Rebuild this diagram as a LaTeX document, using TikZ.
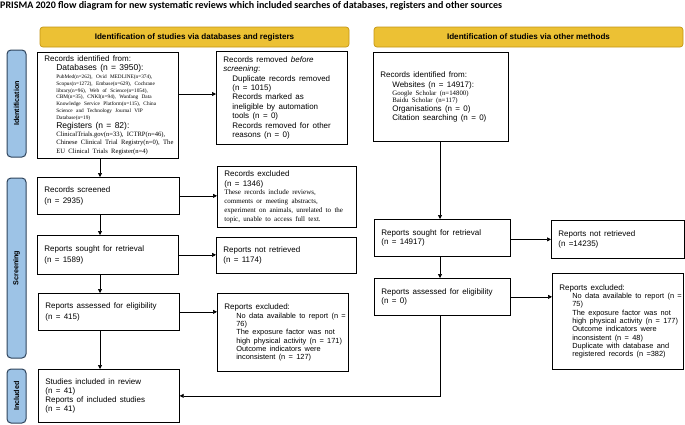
\documentclass[tikz,border=0pt]{standalone}
\usepackage{fontspec}
\setmainfont{Liberation Sans}
\newfontfamily\tnr{Liberation Serif}
\newfontfamily\ttl{Carlito}
\usetikzlibrary{arrows.meta}
\definecolor{bannerfill}{RGB}{236,193,52}
\definecolor{bannerdraw}{RGB}{196,150,20}
\definecolor{sidefill}{RGB}{157,195,230}
\definecolor{sidedraw}{RGB}{47,68,92}
\newcommand\Lb[4]{{\leftskip=#1pt\fontsize{#2}{#3}\selectfont\mbox{#4}\par}}
\newcommand\boxset{\lineskiplimit=-20pt\parindent=0pt\relax}
\tikzset{
  box/.style={draw=black, line width=0.7pt, fill=white, anchor=north west,
    inner xsep=7pt, inner ysep=0pt, align=left, font=\boxset},
  side/.style={draw=sidedraw, line width=1pt, fill=sidefill, rounded corners=4pt,
    rotate=90, inner sep=0pt, minimum height=19pt,
    font=\bfseries\fontsize{7.2}{8}\selectfont},
  banner/.style={draw=bannerdraw, line width=0.7pt, fill=bannerfill, rounded corners=3pt,
    inner sep=0pt, minimum width=309pt, minimum height=20pt,
    font=\bfseries\fontsize{8.1}{9}\selectfont},
  arr/.style={-{Triangle[length=4pt,width=4pt]}, line width=0.7pt}
}
\begin{document}
\begin{tikzpicture}[x=1pt,y=-1pt]
\fill[white] (0,0) rectangle (685,424);
\useasboundingbox (0,0) rectangle (685,424);

\node[anchor=west, inner sep=0pt, font=\ttl\bfseries\fontsize{10}{11}\selectfont] (title) at (0,5.8)
  {PRISMA 2020 flow diagram for new systematic reviews which included searches of databases, registers and other sources};

\node[banner] (banA) at (194.5,37) {Identification of studies via databases and registers};
\node[banner] (banB) at (528.5,37) {Identification of studies via other methods};

\node[side, minimum width=107pt] (sideA) at (16.5,103.5) {Identification};
\node[side, minimum width=180pt] (sideB) at (16.5,268) {Screening};
\node[side, minimum width=54pt] (sideC) at (16.5,396) {Included};

% left column
\node[box, text width=127pt, minimum height=106pt] (id1) at (37,52) {%
\Lb{0}{8}{9}{Records identified from:}
\Lb{12}{8.5}{9.5}{Databases (n = 3950):}
\Lb{12}{5.3}{8}{\tnr PubMed(n=262), Ovid MEDLINE(n=374),}
\Lb{12}{5.3}{6.7}{\tnr Scopus(n=1272), Embase(n=629), Cochrane}
\Lb{12}{5.3}{6.7}{\tnr library(n=96), Web of Science(n=1054),}
\Lb{12}{5.3}{6.7}{\tnr CBM(n=35), CNKI(n=94), Wanfang Data}
\Lb{12}{5.3}{6.7}{\tnr Knowledge Service Platform(n=115), China}
\Lb{12}{5.3}{6.7}{\tnr Science and Technology Journal VIP}
\Lb{12}{5.3}{6.7}{\tnr Database(n=19)}
\Lb{12}{8.5}{9}{Registers (n = 82):}
\Lb{12}{6.6}{8}{\tnr ClinicalTrials.gov(n=33), ICTRP(n=46),}
\Lb{12}{6.6}{8.8}{\tnr Chinese Clinical Trial Registry(n=0), The}
\Lb{12}{6.6}{8.8}{\tnr EU Clinical Trials Register(n=4)}};

\node[box, text width=117pt, minimum height=93pt] (removed) at (216,51) {%
\Lb{0}{8}{9.4}{Records removed \textit{before}}
\Lb{0}{8}{9.4}{\textit{screening}:}
\Lb{9}{8}{9.4}{Duplicate records removed}
\Lb{9}{8}{9.4}{(n = 1015)}
\Lb{9}{8}{9.4}{Records marked as}
\Lb{9}{8}{9.4}{ineligible by automation}
\Lb{9}{8}{9.4}{tools (n = 0)}
\Lb{9}{8}{9.4}{Records removed for other}
\Lb{9}{8}{9.4}{reasons (n = 0)}};

\node[box, text width=128pt, minimum height=37pt] (screened) at (37,177) {%
\Lb{0}{8}{11}{Records screened}
\Lb{0}{8}{11}{(n = 2935)}};

\node[box, text width=125pt, minimum height=61pt] (excl) at (217,166) {%
\Lb{0}{8}{10}{Records excluded}
\Lb{0}{8}{10}{(n = 1346)}
\Lb{0}{7}{8}{\tnr These records include reviews,}
\Lb{0}{7}{9}{\tnr comments or meeting abstracts,}
\Lb{0}{7}{9}{\tnr experiment on animals, unrelated to the}
\Lb{0}{7}{9}{\tnr topic, unable to access full text.}};

\node[box, text width=127pt, minimum height=39pt] (sought) at (37,235) {%
\Lb{0}{8}{10.5}{Reports sought for retrieval}
\Lb{0}{8}{10.5}{(n = 1589)}};

\node[box, text width=126pt, minimum height=36pt] (notret) at (216,237) {%
\Lb{0}{8}{10.5}{Reports not retrieved}
\Lb{0}{8}{10.5}{(n = 1174)}};

\node[box, text width=127pt, minimum height=37pt] (assessed) at (38,293) {%
\Lb{0}{8}{10.5}{Reports assessed for eligibility}
\Lb{0}{8}{10.5}{(n = 415)}};

\node[box, text width=117pt, minimum height=78pt] (repexcl) at (217,293) {%
\Lb{0}{8}{9}{Reports excluded:}
\Lb{12}{7.4}{9}{No data available to report (n =}
\Lb{12}{7.4}{8.3}{76)}
\Lb{12}{7.4}{8.3}{The exposure factor was not}
\Lb{12}{7.4}{8.3}{high physical activity (n = 171)}
\Lb{12}{7.4}{8.3}{Outcome indicators were}
\Lb{12}{7.4}{8.3}{inconsistent (n = 127)}};

\node[box, text width=127pt, minimum height=53pt] (included) at (38,369) {%
\Lb{0}{8}{9}{Studies included in review}
\Lb{0}{8}{9}{(n = 41)}
\Lb{0}{8}{9.5}{Reports of included studies}
\Lb{0}{8}{9}{(n = 41)}};

% right column
\node[box, text width=121pt, minimum height=89pt] (id2) at (373,52) {%
\Lb{0}{8}{9}{Records identified from:}
\Lb{12}{8}{9.5}{Websites (n = 14917):}
\Lb{12}{6.8}{8}{\tnr Google Scholar (n=14800)}
\Lb{12}{6.8}{7.3}{\tnr Baidu Scholar (n=117)}
\Lb{12}{8}{8.8}{Organisations (n = 0)}
\Lb{12}{8}{9}{Citation searching (n = 0)}};

\node[box, text width=122pt, minimum height=37pt] (sought2) at (374,219) {%
\Lb{0}{8}{9.5}{Reports sought for retrieval}
\Lb{0}{8}{9.5}{(n = 14917)}};

\node[box, text width=119pt, minimum height=38pt] (notret2) at (551,220) {%
\Lb{0}{8}{10}{Reports not retrieved}
\Lb{0}{8}{10}{(n =14235)}};

\node[box, text width=122pt, minimum height=37pt] (assessed2) at (374,278) {%
\Lb{0}{8}{9.5}{Reports assessed for eligibility}
\Lb{0}{8}{9.5}{(n = 0)}};

\node[box, text width=117pt, minimum height=96pt] (repexcl2) at (552,273) {%
\Lb{0}{8}{9}{Reports excluded:}
\Lb{13}{7.4}{8.5}{No data available to report (n =}
\Lb{13}{7.4}{8.3}{75)}
\Lb{13}{7.4}{8.3}{The exposure factor was not}
\Lb{13}{7.4}{8.3}{high physical activity (n = 177)}
\Lb{13}{7.4}{8.3}{Outcome indicators were}
\Lb{13}{7.4}{8.3}{inconsistent (n = 48)}
\Lb{13}{7.4}{8.3}{Duplicate with database and}
\Lb{13}{7.4}{8.3}{registered records (n =382)}};

% connectors
\coordinate (cL) at (100,0);
\coordinate (cR) at (440,0);
\coordinate (rA) at (0,94);
\draw[arr] (id1.east |- rA) -- (removed.west |- rA);
\draw[arr] (id1.south -| cL) -- (screened.north -| cL);
\draw[arr] (screened.east) -- (excl.west |- screened.east);
\draw[arr] (screened.south -| cL) -- (sought.north -| cL);
\draw[arr] (sought.east) -- (notret.west |- sought.east);
\draw[arr] (sought.south -| cL) -- (assessed.north -| cL);
\draw[arr] (assessed.east) -- (repexcl.west |- assessed.east);
\draw[arr] (assessed.south -| cL) -- (included.north -| cL);

\draw[arr] (id2.south -| cR) -- (sought2.north -| cR);
\draw[arr] (sought2.east |- notret2.west) -- (notret2.west);
\draw[arr] (sought2.south -| cR) -- (assessed2.north -| cR);
\draw[arr] (assessed2.east) -- (repexcl2.west |- assessed2.east);
\draw[arr] (assessed2.south -| cR) |- (included.east);
\end{tikzpicture}
\end{document}
